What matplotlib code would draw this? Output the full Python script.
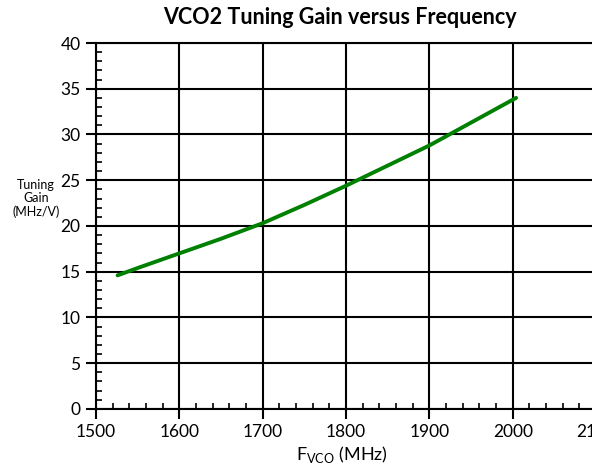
import numpy as np
import matplotlib
matplotlib.use('Agg')
import matplotlib.pyplot as plt
from matplotlib.ticker import MultipleLocator

# VCO2 tuning gain
freq_mhz = [1526, 1550, 1600, 1650, 1700, 1750, 1800, 1850, 1900, 1950, 2004]
gain_mhz_v = [14.6, 15.4, 17.0, 18.6, 20.3, 22.3, 24.4, 26.6, 28.8, 31.3, 34.0]

x_ticks = [1500, 1600, 1700, 1800, 1900, 2000, 2100]
y_ticks = [0, 5, 10, 15, 20, 25, 30, 35, 40]

plt.rcParams['font.family'] = ['Lato', 'DejaVu Sans']
plt.rcParams['mathtext.fontset'] = 'custom'
plt.rcParams['mathtext.rm'] = 'Lato'

fig = plt.figure(figsize=(5.92, 4.70), dpi=100)
ax = fig.add_axes([0.162, 0.130, 0.845, 0.7785])

ax.plot(freq_mhz, gain_mhz_v, color='#008000', lw=2.8, solid_capstyle='round', zorder=3)

ax.set_xlim(1500, 2100)
ax.set_ylim(0, 40)
ax.set_xticks(x_ticks)
ax.set_yticks(y_ticks)
ax.xaxis.set_minor_locator(MultipleLocator(20))
ax.yaxis.set_minor_locator(MultipleLocator(1))
ax.grid(True, which='major', color='black', lw=1.5)

for s in ['left', 'bottom', 'top']:
    ax.spines[s].set_linewidth(1.5)
ax.spines['right'].set_visible(False)

ax.tick_params(which='major', direction='out', length=7, width=1.5, labelsize=12.5, pad=4)
ax.tick_params(which='minor', direction='in', length=4, width=1.2)
ax.tick_params(axis='x', which='both', top=False)
ax.tick_params(axis='y', which='both', right=False)

fig.text(0.574, 0.962, 'VCO2 Tuning Gain versus Frequency', ha='center', va='center',
         fontsize=15.5, fontweight='bold')
fig.text(0.577, 0.032, r'F$_{\mathrm{VCO}}$ (MHz)', ha='center', va='center', fontsize=13)
fig.text(0.061, 0.578, 'Tuning\nGain\n(MHz/V)', ha='center', va='center', fontsize=9,
         linespacing=1.15)

fig.savefig('out.png', dpi=100)
